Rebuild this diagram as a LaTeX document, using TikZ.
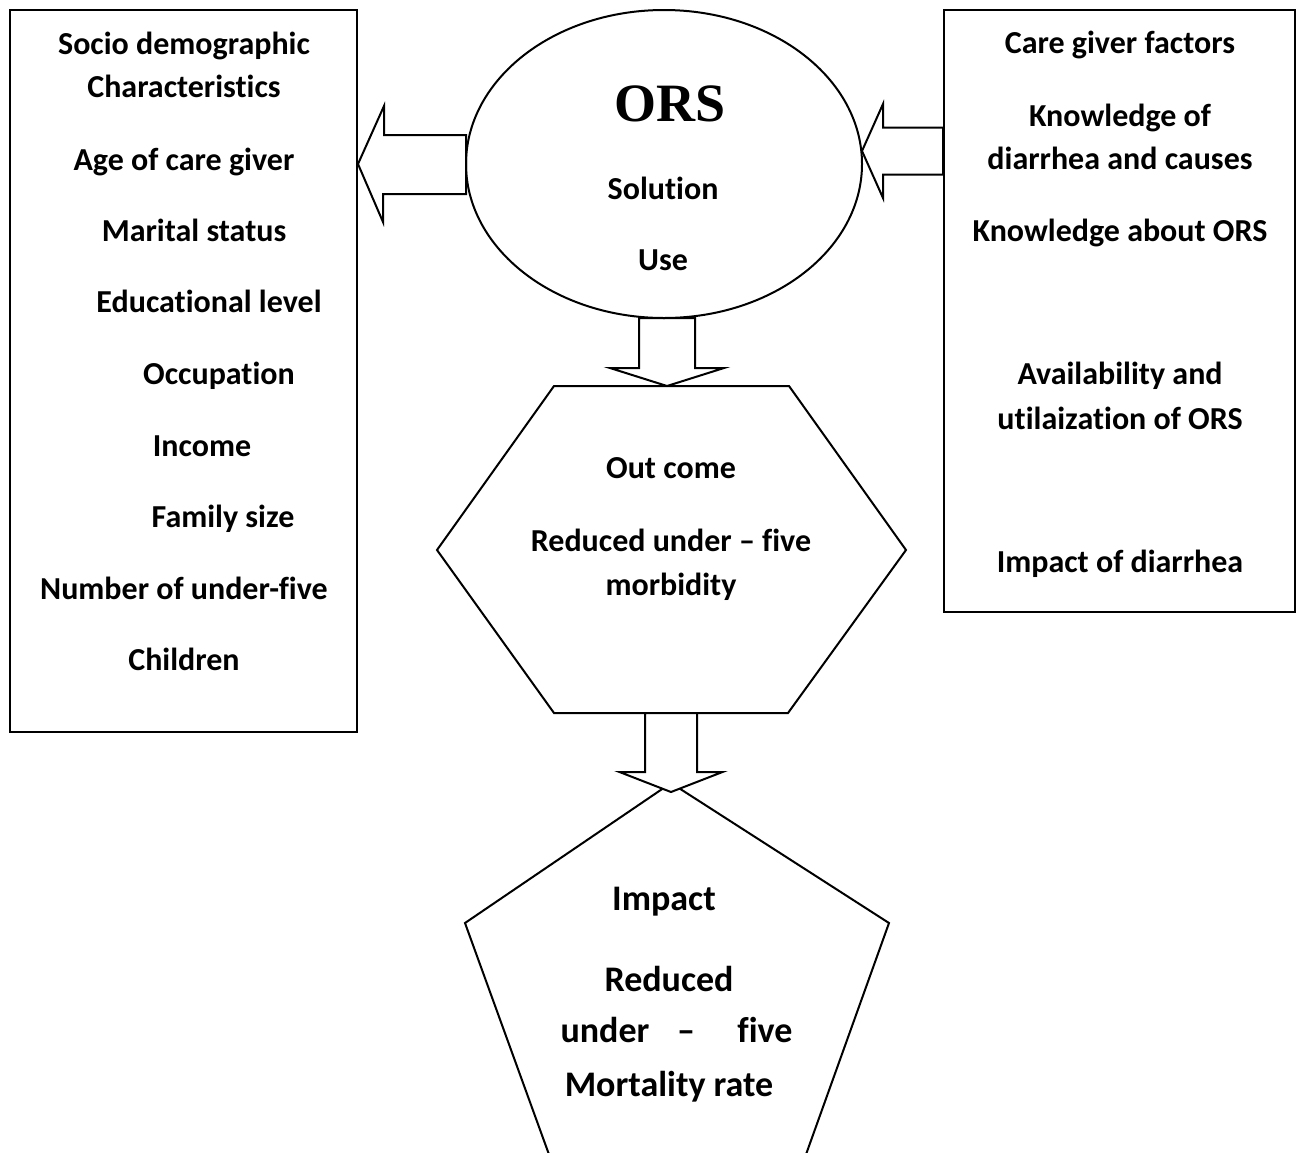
\documentclass[tikz,border=0pt]{standalone}
\usepackage{fontspec}
\setmainfont{Carlito}[Ligatures=NoCommon]
\newfontfamily\orsfont{Liberation Serif}
\usepackage{tikz}
\usetikzlibrary{positioning,shapes,calc}
\tikzset{frame box/.style={draw,line width=1pt,inner sep=0pt}}
\tikzset{label text/.style={font=\fontsize{16}{19}\selectfont\bfseries,anchor=mid,inner sep=0pt}}
\tikzset{big text/.style={font=\fontsize{18}{22}\selectfont\bfseries,anchor=mid,inner sep=0pt}}
\tikzset{block arrow/.style={draw,fill=white,line width=1pt,line join=miter}}

\begin{document}
\begin{tikzpicture}[x=0.5pt,y=-0.5pt]
      \useasboundingbox (0,0) rectangle (1296,1152);
      % boxes on both sides
      \node[frame box, minimum width=173.5pt, minimum height=361pt] (socio) at (183.5,371) {};
      \node[frame box, minimum width=175.5pt, minimum height=301pt] (care) at (1119.5,311) {};
      % outcome hexagon and impact pentagon
      \coordinate (outcome) at (671.5,550);
      \coordinate (outcome top) at (667,386);
      \draw[frame box] (437,550) -- (554,386) -- (789,386) -- (906,550) -- (788,713) -- (554,713) -- cycle;
      \coordinate (impact) at (671,960);
      \coordinate (impact top) at (671,792);
      \draw[frame box] (671,783) -- (889,923) -- (804,1160) -- (551,1160) -- (465,923) -- cycle;
      % block arrows
      \coordinate (rtip) at (862,151);
      \draw[block arrow] (socio.east |- 466,164) -- ++(26,-58) |- (466,135) -- ++(0,59) -| (383,222) -- cycle;
      \draw[block arrow] (rtip) -- ++(21,-47) |- ($(care.west |- rtip)+(0,-23.5)$) -- ++(0,47) -| ($(rtip)+(21,47)$) -- cycle;
      \draw[block arrow] (outcome top) -- ++(-57,-18) -- ++(29,0) -- ++(0,-50) -- ++(56,0) -- ++(0,50) -- ++(29,0) -- cycle;
      \draw[block arrow] (impact top) -- ++(-51.5,-20) -- ++(25.5,0) -- ++(0,-59) -- ++(52,0) -- ++(0,59) -- ++(25.5,0) -- cycle;
      \node[frame box, ellipse, minimum width=198pt, minimum height=154pt] (ors) at (664,164) {};
      % texts
      \foreach \px/\py/\txt [count=\i] in {184/44/Socio demographic, 184/87/Characteristics,
          184/160/Age of care giver, 194/231/Marital status, 209/302/Educational level,
          219/374/Occupation, 202/446/Income, 223/517/Family size,
          184/589/Number of under-five, 184/660/Children}
        \node[label text] (socio\i) at (\px,\py+6) {\txt};
      \foreach \px/\py/\txt [count=\i] in {1120/43/Care giver factors, 1120/116/Knowledge of,
          1120/159/diarrhea and causes, 1120/231/Knowledge about ORS,
          1120/374/Availability and, 1120/419/utilaization of ORS, 1120/562/Impact of diarrhea}
        \node[label text] (care\i) at (\px,\py+6) {\txt};
      \node[anchor=mid,inner sep=0pt,font=\orsfont\fontsize{27}{30}\selectfont\bfseries] (ors1) at (670,117) {ORS};
      \node[label text] (ors2) at (663,195) {Solution};
      \node[label text] (ors3) at (663,266) {Use};
      \node[label text] (outcome1) at (671,474) {Out come};
      \node[label text] (outcome2) at (671,547) {Reduced under – five};
      \node[label text] (outcome3) at (671,591) {morbidity};
      \node[big text] (impact1) at (664,906) {Impact};
      \node[big text] (impact2) at (669,987) {Reduced};
      \node[big text] (impact3) at (605,1038) {under};
      \node[big text] (impact4) at (686,1038) {–};
      \node[big text] (impact5) at (765,1038) {five};
      \node[big text] (impact6) at (669,1092) {Mortality rate};
    \end{tikzpicture}
\end{document}
